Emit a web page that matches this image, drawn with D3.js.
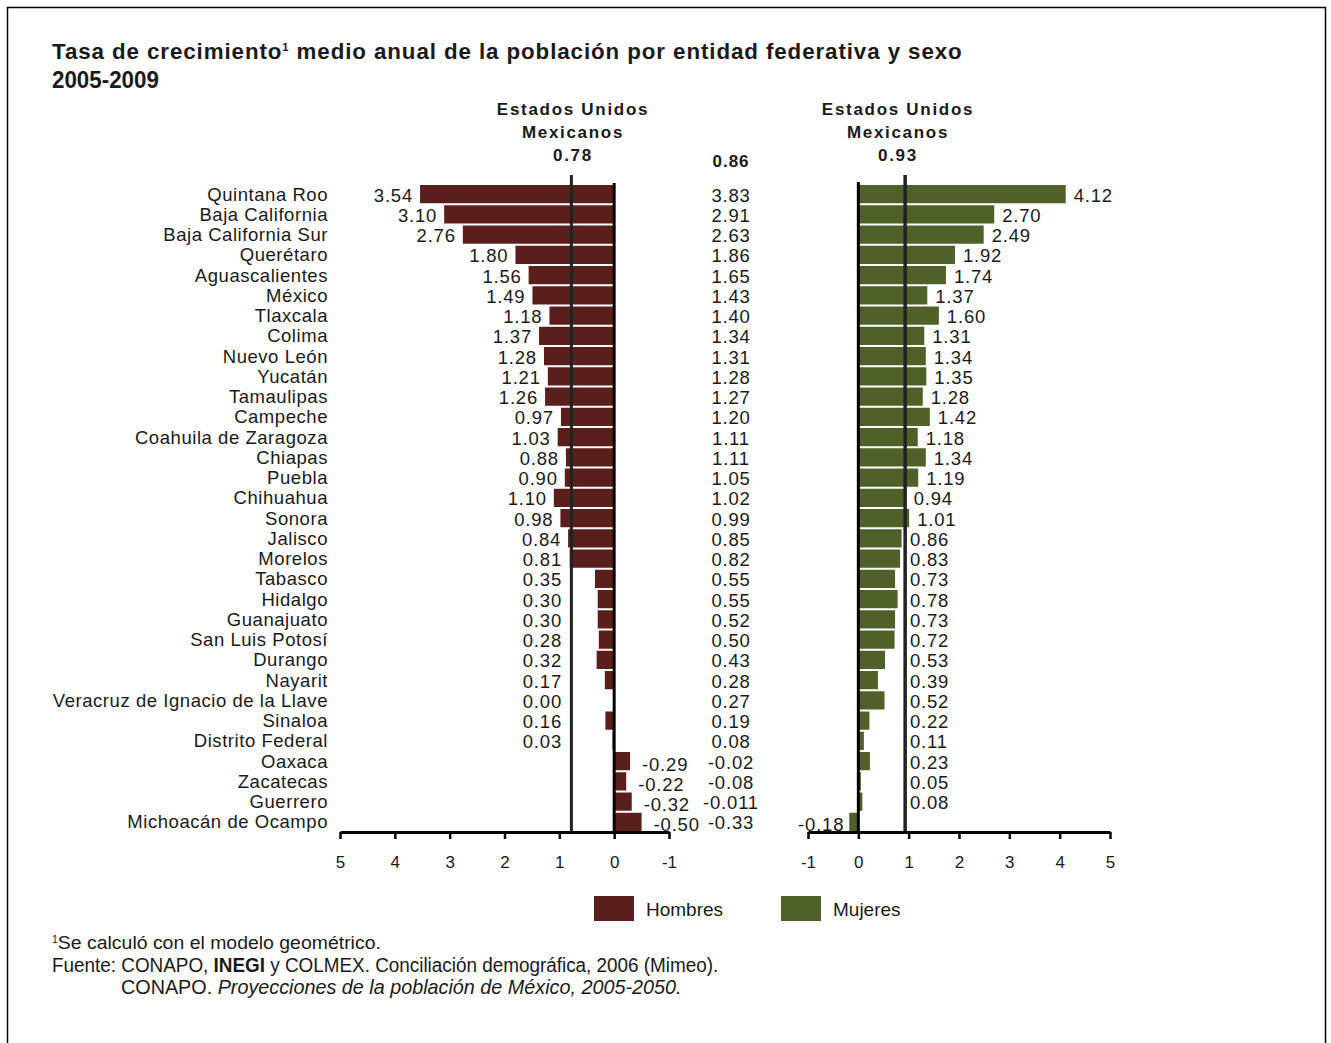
<!DOCTYPE html>
<html>
<head>
<meta charset="utf-8">
<script src="https://cdn.jsdelivr.net/npm/d3@7"></script>
<style>
  body { margin: 0; background: #fff; }
  text { font-family: "Liberation Sans", Arial, sans-serif; fill: #1a1a1a; }
</style>
</head>
<body>
<div id="chart"></div>
<script>
var svgWidth = 1331;
var svgHeight = 1043;

// Data
var states = ["Quintana Roo", "Baja California", "Baja California Sur", "Querétaro", "Aguascalientes",
  "México", "Tlaxcala", "Colima", "Nuevo León", "Yucatán", "Tamaulipas", "Campeche",
  "Coahuila de Zaragoza", "Chiapas", "Puebla", "Chihuahua", "Sonora", "Jalisco", "Morelos",
  "Tabasco", "Hidalgo", "Guanajuato", "San Luis Potosí", "Durango", "Nayarit",
  "Veracruz de Ignacio de la Llave", "Sinaloa", "Distrito Federal", "Oaxaca", "Zacatecas",
  "Guerrero", "Michoacán de Ocampo"];

var hombres = [3.54, 3.10, 2.76, 1.80, 1.56, 1.49, 1.18, 1.37, 1.28, 1.21, 1.26, 0.97, 1.03, 0.88, 0.90,
  1.10, 0.98, 0.84, 0.81, 0.35, 0.30, 0.30, 0.28, 0.32, 0.17, 0.00, 0.16, 0.03, -0.29, -0.22, -0.32, -0.50];

var total = ["3.83", "2.91", "2.63", "1.86", "1.65", "1.43", "1.40", "1.34", "1.31", "1.28", "1.27", "1.20",
  "1.11", "1.11", "1.05", "1.02", "0.99", "0.85", "0.82", "0.55", "0.55", "0.52", "0.50", "0.43", "0.28",
  "0.27", "0.19", "0.08", "-0.02", "-0.08", "-0.011", "-0.33"];

var mujeres = [4.12, 2.70, 2.49, 1.92, 1.74, 1.37, 1.60, 1.31, 1.34, 1.35, 1.28, 1.42, 1.18, 1.34, 1.19,
  0.94, 1.01, 0.86, 0.83, 0.73, 0.78, 0.73, 0.72, 0.53, 0.39, 0.52, 0.22, 0.11, 0.23, 0.05, 0.08, -0.18];

var nationalHombres = 0.78;
var nationalTotal = "0.86";
var nationalMujeres = 0.93;

var ticksLeft = [5, 4, 3, 2, 1, 0, -1];
var ticksRight = [-1, 0, 1, 2, 3, 4, 5];

var colorH = "#5a1f1d";
var colorM = "#4f6128";

// plain hyphen instead of the unicode minus
var fmt2 = v => d3.format(".2f")(v).replace("\u2212", "-");
var fmtInt = v => String(v);

var svg = d3.select("#chart")
  .append("svg")
  .attr("width", svgWidth)
  .attr("height", svgHeight);

// squeeze a text element horizontally so it spans the given width
function fitWidth(sel, x, y, w) {
  var len = sel.node().getComputedTextLength();
  sel.attr("x", 0).attr("y", 0)
    .attr("transform", `translate(${x}, ${y}) scale(${w / len}, 1)`);
}

// page frame
svg.append("rect")
  .attr("x", 7.5).attr("y", 7.5)
  .attr("width", 1318).attr("height", 1100)
  .attr("fill", "none").attr("stroke", "#000").attr("stroke-width", 1.5);

// title
var title = svg.append("text")
  .attr("font-size", "22px").attr("font-weight", "bold")
  .attr("letter-spacing", "0.9px")
  .html('Tasa de crecimiento<tspan font-size="11px" dy="-8">1</tspan><tspan dy="8"> medio anual de la población por entidad federativa y sexo</tspan>');
fitWidth(title, 52, 59, 911);

var sub = svg.append("text")
  .attr("font-size", "23px").attr("font-weight", "bold")
  .text("2005-2009");
fitWidth(sub, 52, 88, 107);

// scales
var yBand = d3.scaleBand()
  .domain(states)
  .range([184, 832])
  .paddingInner(0.1)
  .paddingOuter(0.05);

var xL = d3.scaleLinear().domain([5, -1]).range([340, 669]);
var xR = d3.scaleLinear().domain([-1, 5]).range([808, 1110]);

var axisY = 832;

var rows = states.map((s, i) => ({ state: s, h: hombres[i], t: total[i], m: mujeres[i] }));

// state labels
svg.append("g").selectAll("text")
  .data(rows)
  .enter()
  .append("text")
  .attr("x", 328)
  .attr("y", d => yBand(d.state) + yBand.bandwidth() / 2)
  .attr("dy", "0.35em")
  .attr("text-anchor", "end")
  .attr("font-size", "18.5px")
  .attr("letter-spacing", "0.55px")
  .text(d => d.state);

// hombres bars
svg.append("g").selectAll("rect")
  .data(rows)
  .enter()
  .append("rect")
  .attr("x", d => Math.min(xL(d.h), xL(0)))
  .attr("y", d => yBand(d.state))
  .attr("width", d => Math.abs(xL(d.h) - xL(0)))
  .attr("height", yBand.bandwidth())
  .attr("fill", colorH);

svg.append("g").selectAll("text")
  .data(rows)
  .enter()
  .append("text")
  .attr("x", d => d.h >= 0 ? Math.min(xL(d.h) - 7, 562) : xL(d.h) + 12)
  .attr("y", d => yBand(d.state) + yBand.bandwidth() / 2 + (d.h < 0 ? 3 : 1))
  .attr("dy", "0.35em")
  .attr("text-anchor", d => d.h >= 0 ? "end" : "start")
  .attr("font-size", "18.5px")
  .attr("letter-spacing", "0.8px")
  .text(d => fmt2(d.h));

// total column
svg.append("g").selectAll("text")
  .data(rows)
  .enter()
  .append("text")
  .attr("x", 731)
  .attr("y", d => yBand(d.state) + yBand.bandwidth() / 2 + 1)
  .attr("dy", "0.35em")
  .attr("text-anchor", "middle")
  .attr("font-size", "18.5px")
  .attr("letter-spacing", "0.8px")
  .text(d => d.t);

// mujeres bars
svg.append("g").selectAll("rect")
  .data(rows)
  .enter()
  .append("rect")
  .attr("x", d => Math.min(xR(d.m), xR(0)))
  .attr("y", d => yBand(d.state))
  .attr("width", d => Math.abs(xR(d.m) - xR(0)))
  .attr("height", yBand.bandwidth())
  .attr("fill", colorM);

svg.append("g").selectAll("text")
  .data(rows)
  .enter()
  .append("text")
  .attr("x", d => d.m >= 0 ? Math.max(xR(d.m) + 8, 910) : xR(d.m) - 5)
  .attr("y", d => yBand(d.state) + yBand.bandwidth() / 2 + (d.m < 0 ? 3 : 1))
  .attr("dy", "0.35em")
  .attr("text-anchor", d => d.m >= 0 ? "start" : "end")
  .attr("font-size", "18.5px")
  .attr("letter-spacing", "0.8px")
  .text(d => fmt2(d.m));

// zero lines and national lines
svg.append("line")
  .attr("x1", xL(0)).attr("x2", xL(0)).attr("y1", 183).attr("y2", axisY)
  .attr("stroke", "#000").attr("stroke-width", 3);
svg.append("line")
  .attr("x1", xL(nationalHombres)).attr("x2", xL(nationalHombres)).attr("y1", 175).attr("y2", axisY)
  .attr("stroke", "#222").attr("stroke-width", 3);
svg.append("line")
  .attr("x1", xR(0)).attr("x2", xR(0)).attr("y1", 182).attr("y2", axisY)
  .attr("stroke", "#000").attr("stroke-width", 3);
svg.append("line")
  .attr("x1", xR(nationalMujeres)).attr("x2", xR(nationalMujeres)).attr("y1", 175).attr("y2", axisY)
  .attr("stroke", "#222").attr("stroke-width", 3.5);

// axes
function styleAxis(g) {
  g.select(".domain").attr("stroke", "#000").attr("stroke-width", 3);
  g.selectAll(".tick line").attr("stroke", "#000").attr("stroke-width", 2.5);
  g.selectAll(".tick text").attr("font-size", "17px").attr("fill", "#1a1a1a")
    .attr("font-family", "Liberation Sans, Arial, sans-serif");
}

svg.append("g")
  .attr("transform", `translate(0, ${axisY})`)
  .call(d3.axisBottom(xL).tickValues(ticksLeft).tickSize(7).tickSizeOuter(0).tickPadding(17).tickFormat(fmtInt))
  .call(styleAxis);

svg.append("g")
  .attr("transform", `translate(0, ${axisY})`)
  .call(d3.axisBottom(xR).tickValues(ticksRight).tickSize(7).tickSizeOuter(0).tickPadding(17).tickFormat(fmtInt))
  .call(styleAxis);

// headers
function header(x, lines) {
  var t = svg.append("text")
    .attr("text-anchor", "middle")
    .attr("font-size", "17px")
    .attr("font-weight", "bold")
    .attr("letter-spacing", "1.7px");
  lines.forEach((l, i) => {
    t.append("tspan").attr("x", x).attr("y", 115 + i * 23).text(l);
  });
}
header(573, ["Estados Unidos", "Mexicanos", fmt2(nationalHombres)]);
header(898, ["Estados Unidos", "Mexicanos", fmt2(nationalMujeres)]);
svg.append("text")
  .attr("x", 731).attr("y", 167)
  .attr("text-anchor", "middle")
  .attr("font-size", "17px").attr("font-weight", "bold")
  .attr("letter-spacing", "1px")
  .text(nationalTotal);

// legend
var legend = [{ name: "Hombres", color: colorH, x: 594 }, { name: "Mujeres", color: colorM, x: 781 }];
var lg = svg.append("g").selectAll("g")
  .data(legend)
  .enter()
  .append("g")
  .attr("transform", d => `translate(${d.x}, 896)`);
lg.append("rect").attr("width", 40).attr("height", 25).attr("fill", d => d.color);
lg.append("text").attr("x", 52).attr("y", 13).attr("dy", "0.35em")
  .attr("font-size", "19px").text(d => d.name);

// footnotes
var f1 = svg.append("text")
  .attr("font-size", "18.5px")
  .html('<tspan font-size="10px" dy="-6">1</tspan><tspan dy="6">Se calculó con el modelo geométrico.</tspan>');
fitWidth(f1, 52, 949, 329);

var f2 = svg.append("text")
  .attr("font-size", "20px")
  .html('Fuente: CONAPO, <tspan font-weight="bold">INEGI</tspan> y COLMEX. Conciliación demográfica, 2006 (Mimeo).');
fitWidth(f2, 52, 972, 667);

var f3 = svg.append("text")
  .attr("font-size", "20px")
  .html('CONAPO. <tspan font-style="italic">Proyecciones de la población de México, 2005-2050.</tspan>');
fitWidth(f3, 121, 994, 561);
</script>
</body>
</html>
